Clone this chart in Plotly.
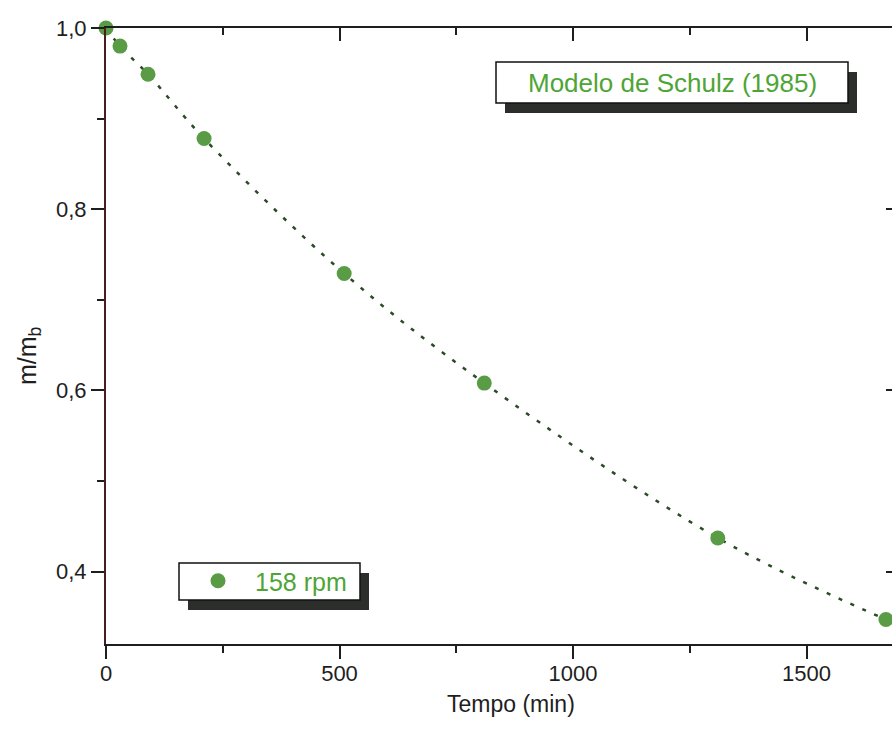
import plotly.graph_objects as go

# Mass fraction remaining vs. time, 158 rpm run
tempo_min = [0, 30, 90, 210, 510, 810, 1310, 1670]
m_mb = [1.0, 0.980, 0.949, 0.878, 0.729, 0.608, 0.437, 0.347]

series_name = "158 rpm"
model_label = "Modelo de Schulz (1985)"
x_title = "Tempo (min)"
y_title = "m/m<sub>b</sub>"

x_tick_vals = [0, 500, 1000, 1500]
x_tick_text = ["0", "500", "1000", "1500"]
x_minor_vals = [250, 750, 1250]
y_tick_vals = [0.4, 0.6, 0.8, 1.0]
y_tick_text = ["0,4", "0,6", "0,8", "1,0"]
y_minor_vals = [0.5, 0.7, 0.9]

x_range = [0, 1683]
y_range = [0.32, 1.0]

W, H = 892, 735
L, R, T, B = 106, 0, 28, 91
PW, PH = W - L - R, H - T - B

GREEN_MARK = "#5a9c45"
GREEN_TEXT = "#4ea536"
FIT_COLOR = "#2c4a28"
LEFT_LINE = "#4a1e1e"
TXT = "#1e1e1e"
FAMILY = "Liberation Sans, Arial, sans-serif"
TICK_FONT = dict(family=FAMILY, size=22, color=TXT)


def px_x(p):
    return (p - L) / PW


def px_y(p):
    return (H - B - p) / PH


fig = go.Figure()

# model curve (dotted) through the measured points
fig.add_trace(go.Scatter(
    x=tempo_min, y=m_mb, mode="lines",
    line=dict(color=FIT_COLOR, width=2.5, dash="4px,9px", shape="spline", smoothing=1.0),
    showlegend=False, hoverinfo="skip", cliponaxis=False,
))

# measured points
fig.add_trace(go.Scatter(
    x=tempo_min, y=m_mb, mode="markers", name=series_name,
    marker=dict(color=GREEN_MARK, size=15, line=dict(width=0)),
    cliponaxis=False,
))

# keep the mirrored axes attached to something so they render
fig.add_trace(go.Scatter(x=[None], y=[None], xaxis="x2", yaxis="y2",
                         showlegend=False, hoverinfo="skip"))

axis_common = dict(showgrid=False, zeroline=False)

fig.update_layout(
    width=W, height=H,
    margin=dict(l=L, r=R, t=T, b=B),
    paper_bgcolor="white", plot_bgcolor="white",
    font=TICK_FONT,
    xaxis=dict(
        range=x_range, tickvals=x_tick_vals, ticktext=x_tick_text,
        ticks="outside", ticklen=13, tickwidth=2, tickcolor=TXT,
        minor=dict(tickvals=x_minor_vals, ticks="outside", ticklen=7, tickwidth=2, tickcolor=TXT),
        showline=True, linecolor=TXT, linewidth=2,
        tickfont=TICK_FONT, ticklabelstandoff=-4,
        **axis_common,
    ),
    yaxis=dict(
        range=y_range, tickvals=y_tick_vals, ticktext=y_tick_text,
        ticks="outside", ticklen=13, tickwidth=2, tickcolor=TXT,
        minor=dict(tickvals=y_minor_vals, ticks="outside", ticklen=7, tickwidth=2, tickcolor=TXT),
        showline=True, linecolor=LEFT_LINE, linewidth=2,
        tickfont=TICK_FONT,
        **axis_common,
    ),
    xaxis2=dict(
        overlaying="x", anchor="y", side="top", matches="x", range=x_range,
        tickvals=x_tick_vals, showticklabels=False,
        ticks="inside", ticklen=13, tickwidth=2, tickcolor=TXT,
        minor=dict(tickvals=x_minor_vals, ticks="inside", ticklen=7, tickwidth=2, tickcolor=TXT),
        showline=True, linecolor=TXT, linewidth=2,
        **axis_common,
    ),
    yaxis2=dict(
        overlaying="y", anchor="x", side="right", matches="y", range=y_range,
        tickvals=y_tick_vals, showticklabels=False,
        ticks="inside", ticklen=6, tickwidth=2, tickcolor=TXT,
        showline=False,
        **axis_common,
    ),
    legend=dict(
        x=px_x(181), y=px_y(558), xanchor="left", yanchor="top",
        bgcolor="rgba(0,0,0,0)", borderwidth=0,
        font=dict(family=FAMILY, size=25, color=GREEN_TEXT),
        itemsizing="trace", itemwidth=64,
    ),
    showlegend=True,
)


def boxed(x0, y0, x1, y1, dx, dy):
    # drop shadow then the white framed box
    fig.add_shape(type="rect", xref="paper", yref="paper",
                  x0=px_x(x0 + dx), x1=px_x(x1 + dx), y0=px_y(y1 + dy), y1=px_y(y0 + dy),
                  fillcolor="#2b2e2b", line=dict(width=0), layer="above")
    fig.add_shape(type="rect", xref="paper", yref="paper",
                  x0=px_x(x0), x1=px_x(x1), y0=px_y(y1), y1=px_y(y0),
                  fillcolor="white", line=dict(color="#111", width=1.5), layer="above")


boxed(496, 62, 848, 103, 9, 10)
boxed(179, 563, 360, 600, 9, 10)

fig.add_annotation(
    xref="paper", yref="paper", x=px_x(672), y=px_y(83),
    xanchor="center", yanchor="middle", showarrow=False,
    text=model_label, font=dict(family=FAMILY, size=26, color=GREEN_TEXT),
)

# axis titles
fig.add_annotation(
    xref="paper", yref="paper", x=px_x(511), y=px_y(704),
    xanchor="center", yanchor="middle", showarrow=False,
    text=x_title, font=dict(family=FAMILY, size=23, color=TXT),
)
fig.add_annotation(
    xref="paper", yref="paper", x=px_x(29), y=px_y(356),
    xanchor="center", yanchor="middle", showarrow=False, textangle=-90,
    text=y_title, font=dict(family=FAMILY, size=25, color=TXT),
)

fig.write_html("out.html")
